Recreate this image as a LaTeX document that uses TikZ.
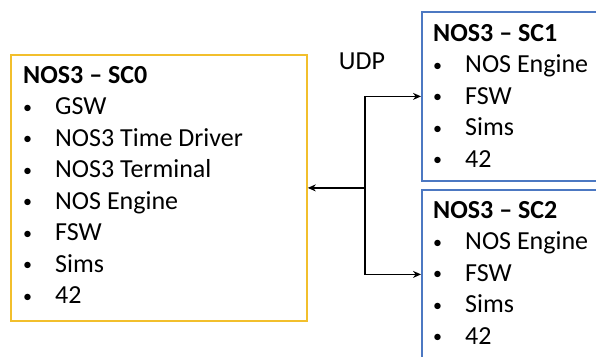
\documentclass[tikz,border=0pt]{standalone}
\usepackage{fontspec}
\setmainfont{Carlito}
\usetikzlibrary{arrows.meta, positioning}
\definecolor{scgold}{HTML}{F2BF2C}
\definecolor{scblue}{HTML}{4C78C2}
\newcommand{\bul}[1]{\makebox[32pt][l]{\raisebox{1.5pt}{\fontsize{18}{18}\selectfont\textbullet}}#1}
\tikzset{NosLayout/.style={
    x = 1pt, y = -1pt,
    scbox/.style = {draw, line width=1.8pt, anchor=north west, inner sep=0pt},
    sclist/.style = {anchor=north west, align=left, inner sep=0pt, font=\fontsize{26}{31.5}\selectfont},
    link/.style = {line width=1.4pt, -{Stealth[length=8pt, width=7pt]}}
}}

\begin{document}
\begin{tikzpicture}[NosLayout]
        \useasboundingbox (0,0) rectangle (596,356);
        \node [scbox, draw=scgold, minimum width=296pt, minimum height=266pt] (sc0) at (10,54) {};
        \node [scbox, draw=scblue, minimum width=180pt, minimum height=169pt] (sc1) at (421,11) {};
        \node [scbox, draw=scblue, minimum width=180pt, minimum height=169pt] (sc2) at (421,189) {};

        \node [sclist] (sc0list) at ([xshift=13pt, yshift=-12pt]sc0.north west) {
            \textbf{NOS3 – SC0}\\ \bul{GSW}\\ \bul{NOS3 Time Driver}\\ \bul{NOS3 Terminal}\\
            \bul{NOS Engine}\\ \bul{FSW}\\ \bul{Sims}\\ \bul{42}
        };
        \node [sclist] (sc1list) at ([xshift=12pt, yshift=-13pt]sc1.north west) {
            \textbf{NOS3 – SC1}\\ \bul{NOS Engine}\\ \bul{FSW}\\ \bul{Sims}\\ \bul{42}
        };
        \node [sclist] (sc2list) at ([xshift=12pt, yshift=-12pt]sc2.north west) {
            \textbf{NOS3 – SC2}\\ \bul{NOS Engine}\\ \bul{FSW}\\ \bul{Sims}\\ \bul{42}
        };

        \coordinate [right=57pt of sc0.east] (hub);
        \node [font=\fontsize{26}{31.5}\selectfont] (udp) at (362,61) {UDP};

        \draw [link] (hub) -- (sc0.east);
        \draw [link] (hub) |- (sc1.west);
        \draw [link] (hub) |- (sc2.west);
    \end{tikzpicture}
\end{document}
